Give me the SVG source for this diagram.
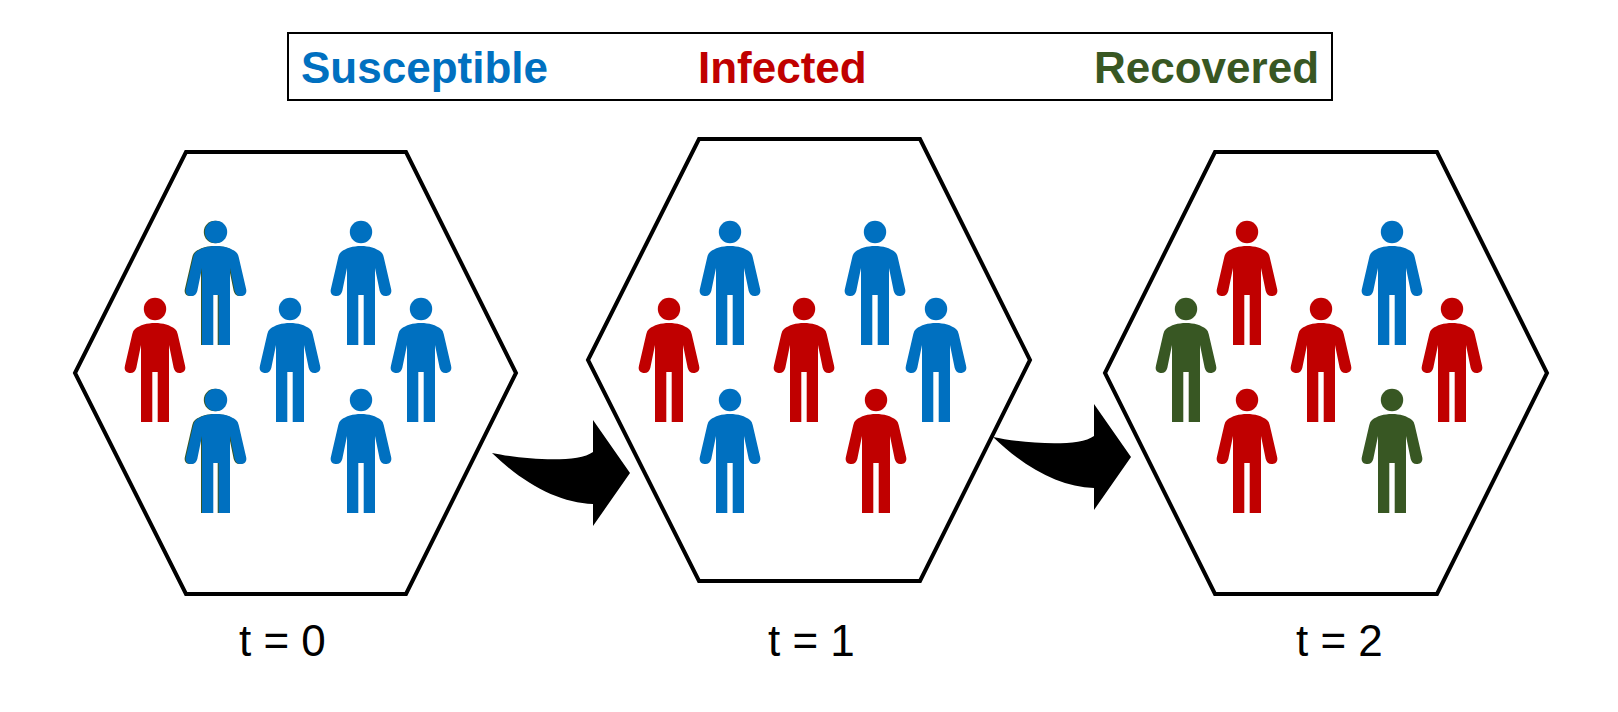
<svg xmlns="http://www.w3.org/2000/svg" width="1618" height="712" viewBox="0 0 1618 712">
<style>
.hex{fill:#fff;stroke:#000;stroke-width:4;stroke-linejoin:miter}
.s{fill:#0070C0}.i{fill:#C00000}.r{fill:#385723}
.leg{font-family:"Liberation Sans",Arial,sans-serif;font-weight:700;font-size:44px}
.t{font-family:"Liberation Sans",Arial,sans-serif;font-size:44px;fill:#000}
</style>
<defs>
<g id="p">
<circle cx="0" cy="0" r="11.2"/>
<path d="M0 14C-8 14-15 16-20 20Q-22 21.500-22.700 25L-30 56.500C-31.500 62-28 64-24.500 64C-21.500 64-19.500 62-18.700 59L-14 36V113H-2.700V63H2.700V113H14V36L18.700 59C19.500 62 21.500 64 24.500 64C28 64 31.500 62 30 56.500L22.700 25Q22 21.500 20 20C15 16 8 14 0 14Z"/>
</g>
<path id="arw" d="M492 453C520 459 577 464 593 452V420L630 473L593 526V504C560 503 525 485 492 453Z"/>
</defs>
<g id="legend">
<rect x="288" y="33" width="1044" height="67" fill="#fff" stroke="#000" stroke-width="2"/>
<text class="leg s" x="301" y="83">Susceptible</text>
<text class="leg i" x="698" y="83">Infected</text>
<text class="leg r" x="1094" y="83">Recovered</text>
</g>
<g id="hex-t0">
<polygon class="hex" points="75,373 186,152 406,152 516,373 406,594 186,594"/>
<use href="#p" class="i" x="155" y="309"/>
<use href="#p" class="r" x="215" y="232"/><use href="#p" class="s" x="216" y="232"/>
<use href="#p" class="s" x="361" y="232"/>
<use href="#p" class="s" x="290" y="309"/>
<use href="#p" class="s" x="421" y="309"/>
<use href="#p" class="r" x="215" y="400"/><use href="#p" class="s" x="216" y="400"/>
<use href="#p" class="s" x="361" y="400"/>
<text class="t" x="239" y="656">t = 0</text>
</g>
<g id="hex-t1">
<polygon class="hex" points="588,360 699,139 920,139 1030,360 920,581 699,581"/>
<use href="#p" class="i" x="669" y="309"/>
<use href="#p" class="s" x="730" y="232"/>
<use href="#p" class="s" x="875" y="232"/>
<use href="#p" class="i" x="804" y="309"/>
<use href="#p" class="s" x="936" y="309"/>
<use href="#p" class="s" x="730" y="400"/>
<use href="#p" class="i" x="876" y="400"/>
<text class="t" x="768" y="656">t = 1</text>
</g>
<g id="hex-t2">
<polygon class="hex" points="1105,373 1215,152 1437,152 1547,373 1437,594 1215,594"/>
<use href="#p" class="r" x="1186" y="309"/>
<use href="#p" class="i" x="1247" y="232"/>
<use href="#p" class="s" x="1392" y="232"/>
<use href="#p" class="i" x="1321" y="309"/>
<use href="#p" class="i" x="1452" y="309"/>
<use href="#p" class="i" x="1247" y="400"/>
<use href="#p" class="r" x="1392" y="400"/>
<text class="t" x="1296" y="656">t = 2</text>
</g>
<g id="connectors">
<use href="#arw"/>
<use href="#arw" x="501" y="-16"/>
</g>
</svg>
